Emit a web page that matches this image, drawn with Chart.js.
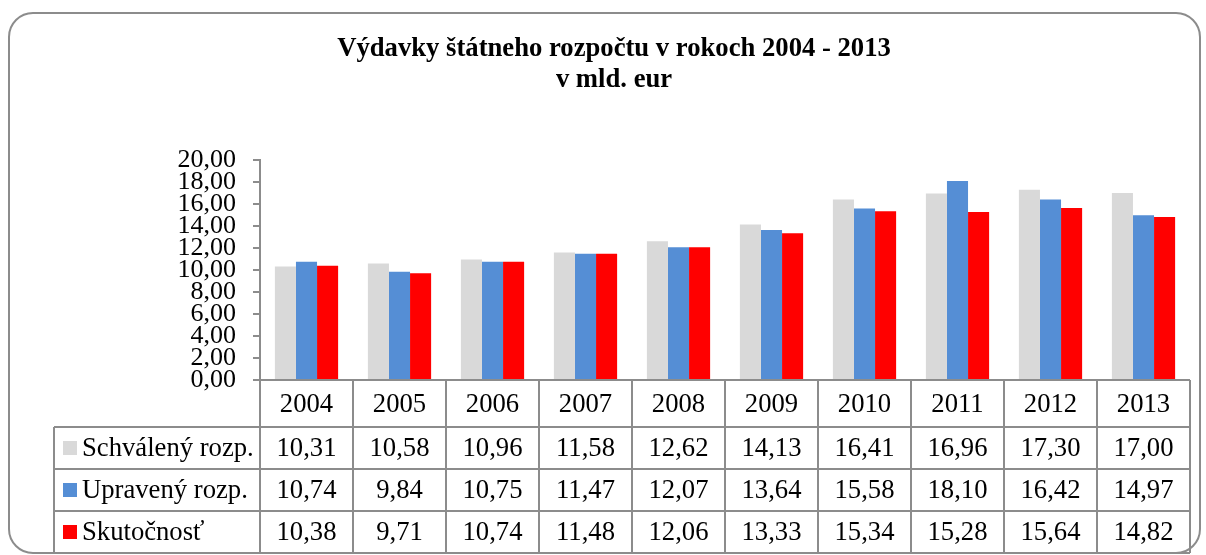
<!DOCTYPE html>
<html lang="sk">
<head>
<meta charset="utf-8">
<title>Výdavky štátneho rozpočtu v rokoch 2004 - 2013</title>
<script src="https://cdn.jsdelivr.net/npm/chart.js@4.4.1/dist/chart.umd.min.js"></script>
<style>
  html, body { margin: 0; padding: 0; background: #fff; }
  #wrap { width: 1206px; height: 555px; }
</style>
</head>
<body>
<div id="wrap"><canvas id="chart" width="1206" height="555"></canvas></div>
<script>
// Data
const years = ['2004', '2005', '2006', '2007', '2008', '2009', '2010', '2011', '2012', '2013'];
const schvaleny = [10.31, 10.58, 10.96, 11.58, 12.62, 14.13, 16.41, 16.96, 17.30, 17.00];
const upraveny = [10.74, 9.84, 10.75, 11.47, 12.07, 13.64, 15.58, 18.10, 16.42, 14.97];
const skutocnost = [10.38, 9.71, 10.74, 11.48, 12.06, 13.33, 15.34, 15.28, 15.64, 14.82];
const seriesNames = ['Schválený rozp.', 'Upravený rozp.', 'Skutočnosť'];
const titleLines = ['Výdavky štátneho rozpočtu v rokoch 2004 - 2013', 'v mld. eur'];

const colors = ['#D9D9D9', '#558ED5', '#FF0000'];
const serif = '"Liberation Serif", "Times New Roman", serif';
const lineColor = '#8c8c8c';

function fmt(v) {
  return v.toFixed(2).replace('.', ',');
}

// frame + title
const framePlugin = {
  id: 'frame',
  beforeDraw(chart) {
    const ctx = chart.ctx;
    ctx.save();
    ctx.fillStyle = '#fff';
    ctx.fillRect(0, 0, chart.width, chart.height);
    ctx.beginPath();
    ctx.roundRect(9, 13, 1191, 540, 24);
    ctx.strokeStyle = lineColor;
    ctx.lineWidth = 2;
    ctx.stroke();

    ctx.fillStyle = '#000';
    ctx.font = 'bold 26.67px ' + serif;
    ctx.textAlign = 'center';
    ctx.textBaseline = 'middle';
    ctx.fillText(titleLines[0], 614, 49);
    ctx.fillText(titleLines[1], 614, 80);
    ctx.restore();
  }
};

// data table under the x axis
const tablePlugin = {
  id: 'dataTable',
  afterDraw(chart) {
    const { ctx, chartArea } = chart;
    const x = chart.scales.x;
    const catW = x.width / years.length;
    const top = chartArea.bottom;
    const headH = 47;
    const rowH = 42;
    const labelLeft = 54;
    const right = chartArea.right;
    const bottom = top + headH + rowH * 3;
    const values = [schvaleny, upraveny, skutocnost];

    ctx.save();
    ctx.strokeStyle = lineColor;
    ctx.lineWidth = 2;
    ctx.beginPath();
    // axis line / header top
    ctx.moveTo(chartArea.left - 7, top);
    ctx.lineTo(right, top);
    // row lines
    for (let r = 0; r <= 3; r++) {
      const y = top + headH + rowH * r;
      ctx.moveTo(labelLeft, y);
      ctx.lineTo(right, y);
    }
    // column lines
    for (let i = 0; i <= years.length; i++) {
      const cx = x.getPixelForValue(i) - catW / 2;
      ctx.moveTo(cx, top);
      ctx.lineTo(cx, bottom);
    }
    ctx.moveTo(labelLeft, top + headH);
    ctx.lineTo(labelLeft, bottom);
    ctx.stroke();

    ctx.fillStyle = '#000';
    ctx.font = '26.67px ' + serif;
    ctx.textBaseline = 'middle';
    ctx.textAlign = 'center';
    years.forEach((yr, i) => {
      ctx.fillText(yr, x.getPixelForValue(i), top + headH / 2 + 1);
    });
    values.forEach((arr, r) => {
      const cy = top + headH + rowH * r + rowH / 2 + 1;
      ctx.textAlign = 'center';
      arr.forEach((v, i) => {
        ctx.fillText(fmt(v), x.getPixelForValue(i), cy);
      });
      ctx.fillStyle = colors[r];
      ctx.fillRect(63, cy - 8, 14, 14);
      ctx.fillStyle = '#000';
      ctx.textAlign = 'left';
      ctx.fillText(seriesNames[r], 82, cy);
    });
    ctx.restore();
  }
};

const datasets = [schvaleny, upraveny, skutocnost].map((arr, i) => ({
  label: seriesNames[i],
  data: arr,
  backgroundColor: colors[i],
  borderWidth: 0,
  categoryPercentage: 0.68,
  barPercentage: 1.0
}));

new Chart(document.getElementById('chart'), {
  type: 'bar',
  data: { labels: years, datasets: datasets },
  options: {
    responsive: false,
    animation: false,
    devicePixelRatio: 1,
    layout: { padding: { top: 160, bottom: 175, left: 0, right: 16 } },
    plugins: {
      legend: { display: false },
      title: { display: false },
      tooltip: { enabled: false }
    },
    scales: {
      x: { display: false },
      y: {
        min: 0,
        max: 20,
        afterFit: scale => { scale.width = 260; },
        border: { display: true, color: lineColor, width: 2 },
        grid: { drawOnChartArea: false, drawTicks: true, tickLength: 7, color: lineColor, lineWidth: 2 },
        ticks: {
          stepSize: 2,
          autoSkip: false,
          padding: 17,
          color: '#000',
          font: { family: serif, size: 26 },
          callback: v => fmt(v)
        }
      }
    }
  },
  plugins: [framePlugin, tablePlugin]
});
</script>
</body>
</html>
